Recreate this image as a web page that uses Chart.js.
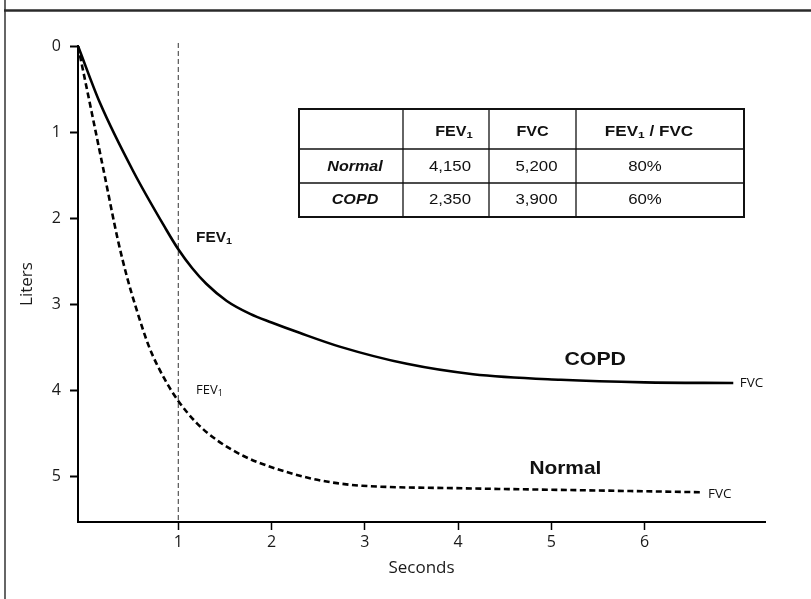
<!DOCTYPE html>
<html><head><meta charset="utf-8">
<script src="https://cdn.jsdelivr.net/npm/chart.js@4"></script>
<style>
html,body{margin:0;padding:0;background:#fff;}
canvas{display:block;}
</style></head><body>
<canvas id="c" width="811" height="599"></canvas>
<script>
// ---- data ----
const xTicks = [1, 2, 3, 4, 5, 6];
const yTicks = [0, 1, 2, 3, 4, 5];
const copdTime   = [-0.075, 0.16, 0.52, 0.87, 1.0, 1.15, 1.3, 1.52, 1.77, 2.0, 2.3, 2.73, 3.45, 4.16, 5.1, 6.0, 6.95];
const copdLiters = [0, 0.66, 1.46, 2.13, 2.36, 2.58, 2.76, 2.96, 3.11, 3.21, 3.33, 3.49, 3.69, 3.81, 3.875, 3.905, 3.912];
const normalTime   = [-0.075, 0.07, 0.21, 0.35, 0.45, 0.55, 0.69, 0.85, 1.0, 1.2, 1.42, 1.7, 2.0, 2.42, 2.7, 2.97, 4.08, 5.2, 6.6];
const normalLiters = [0, 0.76, 1.50, 2.24, 2.68, 3.05, 3.50, 3.86, 4.12, 4.38, 4.58, 4.76, 4.89, 5.02, 5.075, 5.105, 5.135, 5.155, 5.18];
const fev1Time = 1;
const tableRowNames = ['Normal', 'COPD'];
const tableFev1 = ['4,150', '2,350'];
const tableFvc = ['5,200', '3,900'];
const tableRatio = ['80%', '60%'];

const xMin = -0.075, xMax = 7.29, yMin = 0, yMax = 5.526;
const MYR = '"Open Sans", "Noto Sans", sans-serif';
const ARI = '"Liberation Sans", Arial, sans-serif';

function pts(ts, vs) { return ts.map((t, i) => ({x: t, y: vs[i]})); }

function drawParts(ctx, parts, x, y, size, weight, family, align, sx) {
  sx = sx || 1;
  const subSize = size * 0.7;
  let total = 0;
  const widths = parts.map(p => {
    ctx.font = `${weight} ${p[1] ? subSize : size}px ${family}`;
    const w = ctx.measureText(p[0]).width; total += w; return w;
  });
  const x0 = align === 'center' ? x - total * sx / 2 : (align === 'right' ? x - total * sx : x);
  ctx.save();
  ctx.translate(x0, y); ctx.scale(sx, 1);
  ctx.textAlign = 'left'; ctx.textBaseline = 'middle';
  let cx = 0;
  parts.forEach((p, i) => {
    ctx.font = `${weight} ${p[1] ? subSize : size}px ${family}`;
    ctx.fillText(p[0], cx, p[1] ? size * 0.22 : 0);
    cx += widths[i];
  });
  ctx.restore();
}

const curveLabels = [
  {parts: [['FEV'], ['1', true]], t: 1.19, v: 2.23, size: 14, weight: 'bold', family: ARI, align: 'left', sx: 1.1},
  {parts: [['FEV'], ['1', true]], t: 1.19, v: 4.0, size: 13, weight: 'normal', family: MYR, align: 'left', sx: 1},
  {parts: [['COPD']], t: 5.47, v: 3.645, size: 19, weight: 'bold', family: ARI, align: 'center', sx: 1.12},
  {parts: [['Normal']], t: 5.15, v: 4.91, size: 19, weight: 'bold', family: ARI, align: 'center', sx: 1.1},
  {parts: [['FVC']], t: 7.02, v: 3.91, size: 13.5, weight: 'normal', family: MYR, align: 'left', sx: 1},
  {parts: [['FVC']], t: 6.68, v: 5.2, size: 13.5, weight: 'normal', family: MYR, align: 'left', sx: 1}
];

const overlay = {
  id: 'overlay',
  afterDraw(chart) {
    const ctx = chart.ctx;
    const xs = chart.scales.x, ys = chart.scales.y;
    ctx.save();
    // frame
    ctx.strokeStyle = '#666'; ctx.lineWidth = 2;
    ctx.beginPath(); ctx.moveTo(5, 0); ctx.lineTo(5, 599); ctx.stroke();
    ctx.strokeStyle = '#2a2a2a'; ctx.lineWidth = 2.5;
    ctx.beginPath(); ctx.moveTo(4, 10.5); ctx.lineTo(811, 10.5); ctx.stroke();
    // curve labels
    ctx.fillStyle = '#111';
    curveLabels.forEach(l => {
      drawParts(ctx, l.parts, xs.getPixelForValue(l.t), ys.getPixelForValue(l.v), l.size, l.weight, l.family, l.align, l.sx);
    });
    // table
    const cols = [299, 403, 489, 576, 744];
    const rows = [109, 149, 183, 217];
    ctx.strokeStyle = '#111'; ctx.lineWidth = 1.3;
    cols.slice(1, -1).forEach(cx => { ctx.beginPath(); ctx.moveTo(cx, rows[0]); ctx.lineTo(cx, rows[3]); ctx.stroke(); });
    rows.slice(1, -1).forEach(ry => { ctx.beginPath(); ctx.moveTo(cols[0], ry); ctx.lineTo(cols[4], ry); ctx.stroke(); });
    ctx.lineWidth = 2;
    ctx.strokeRect(cols[0], rows[0], cols[4] - cols[0], rows[3] - rows[0]);
    const mid = i => (cols[i] + cols[i + 1]) / 2;
    const rowY = [132, 167, 200];
    const fs = 14, sx = 1.15;
    drawParts(ctx, [['FEV'], ['1', true]], mid(1) + 8, rowY[0], fs, 'bold', ARI, 'center', sx);
    drawParts(ctx, [['FVC']], mid(2), rowY[0], fs, 'bold', ARI, 'center', sx);
    drawParts(ctx, [['FEV'], ['1', true], [' / FVC']], mid(3) - 11, rowY[0], fs, 'bold', ARI, 'center', 1.22);
    tableRowNames.forEach((n, j) => {
      drawParts(ctx, [[n]], mid(0) + 4, rowY[j + 1], fs, 'italic bold', ARI, 'center', sx);
      drawParts(ctx, [[tableFev1[j]]], mid(1) + 4, rowY[j + 1], fs, 'normal', ARI, 'center', 1.2);
      drawParts(ctx, [[tableFvc[j]]], mid(2) + 4, rowY[j + 1], fs, 'normal', ARI, 'center', 1.2);
      drawParts(ctx, [[tableRatio[j]]], mid(3) - 15, rowY[j + 1], fs, 'normal', ARI, 'center', 1.2);
    });
    ctx.restore();
  }
};

new Chart(document.getElementById('c'), {
  type: 'line',
  data: {
    datasets: [
      {label: 'COPD', data: pts(copdTime, copdLiters), borderColor: '#000', borderWidth: 2.6,
       pointRadius: 0, cubicInterpolationMode: 'monotone', fill: false},
      {label: 'Normal', data: pts(normalTime, normalLiters), borderColor: '#000', borderWidth: 2.6,
       borderDash: [6, 3.5], pointRadius: 0, cubicInterpolationMode: 'monotone', fill: false},
      {label: 'FEV1 time', data: [{x: fev1Time, y: -0.035}, {x: fev1Time, y: yMax}], borderColor: '#333',
       borderWidth: 1, borderDash: [5, 3], pointRadius: 0, fill: false, clip: false}
    ]
  },
  options: {
    responsive: false, animation: false, devicePixelRatio: 1,
    layout: {padding: {left: 0, right: 46, top: 46, bottom: 0}},
    plugins: {legend: {display: false}, tooltip: {enabled: false}},
    scales: {
      x: {
        type: 'linear', min: xMin, max: xMax,
        afterBuildTicks: s => { s.ticks = xTicks.map(v => ({value: v})); },
        afterFit: s => { s.height = 77; },
        grid: {display: true, drawOnChartArea: false, drawTicks: true, tickLength: 8, tickWidth: 1.5, tickColor: '#000'},
        border: {display: true, color: '#000', width: 2},
        ticks: {padding: 3, color: '#1a1a1a', font: {family: MYR, size: 16}, maxRotation: 0},
        title: {display: true, text: 'Seconds', color: '#1a1a1a', font: {family: MYR, size: 17}, padding: {top: 0, bottom: 21}}
      },
      y: {
        type: 'linear', reverse: true, min: yMin, max: yMax,
        afterBuildTicks: s => { s.ticks = yTicks.map(v => ({value: v})); },
        afterFit: s => { s.width = 78; },
        grid: {display: true, drawOnChartArea: false, drawTicks: true, tickLength: 8, tickWidth: 2, tickColor: '#000'},
        border: {display: true, color: '#000', width: 2},
        ticks: {padding: 9, color: '#1a1a1a', font: {family: MYR, size: 16}},
        title: {display: true, text: 'Liters', color: '#1a1a1a', font: {family: MYR, size: 17}, padding: {top: 17, bottom: 0}}
      }
    }
  },
  plugins: [overlay]
});
</script>
</body></html>
